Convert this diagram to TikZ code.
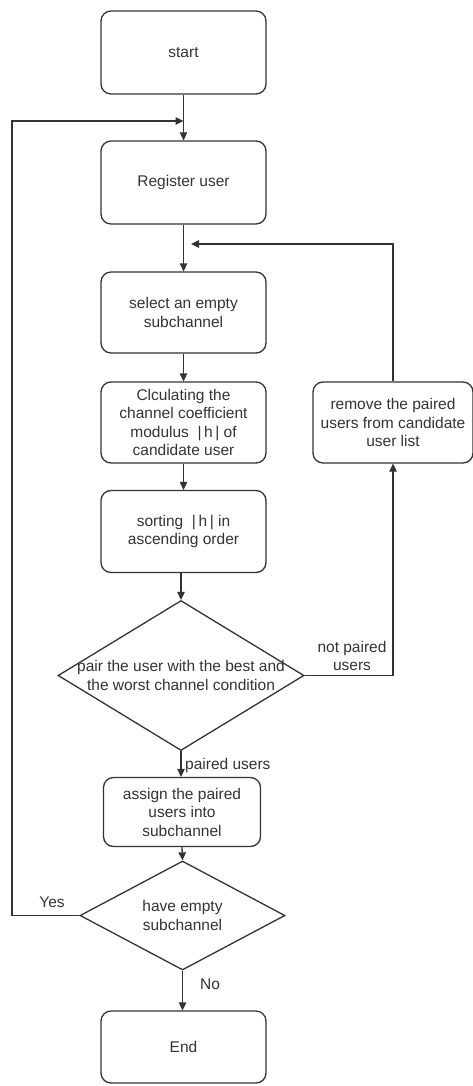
\documentclass[tikz,border=0pt]{standalone}
\usepackage{fontspec}
\setmainfont{Liberation Sans}
\usetikzlibrary{arrows.meta,shapes.geometric}
\definecolor{ink}{HTML}{333333}
\begin{document}
\begin{tikzpicture}[x=1pt,y=-1pt,
 txt/.style={text=ink, align=center, font=\fontsize{15.5}{18.5}\selectfont},
 box/.style={txt, draw=ink, line width=1.3pt, rounded corners=10pt, inner sep=0pt},
 dia/.style={draw=ink, line width=1.3pt, diamond, inner sep=0pt},
 lbl/.style={txt, inner sep=0pt},
 arr/.style={draw=ink, line width=1.3pt, -{Triangle[length=8pt,width=7.5pt]}},
 ln/.style={draw=ink, line width=1.3pt}]
\useasboundingbox (0,0) rectangle (473,1086);
% boxes
\node[box, minimum width=165pt, minimum height=83pt] (start) at (183.5,52.5) {start};
\node[box, minimum width=165pt, minimum height=83pt] (reg) at (183.5,182.5) {Register user};
\node[box, minimum width=165pt, minimum height=81pt] (sel) at (183.5,312.5) {select an empty\\subchannel};
\node[box, minimum width=165pt, minimum height=81pt] (calc) at (183.5,422.5) {Clculating the\\channel coefficient\\modulus~~|\,h\,|~of\\candidate user};
\node[box, minimum width=165pt, minimum height=82pt] (sort) at (183.5,531.5) {sorting~~|\,h\,|~in\\ascending order};
\node[dia, minimum width=246pt, minimum height=150pt] (d1) at (181,675.5) {};
\node[lbl] (d1t) at (d1) {pair the user with the best and\\the worst channel condition};
\node[box, minimum width=160pt, minimum height=81pt] (rem) at (393,422.5) {remove the paired\\users from candidate\\user list};
\node[box, minimum width=157pt, minimum height=69pt] (asg) at (182,812) {assign the paired\\users into\\subchannel};
\node[dia, minimum width=205pt, minimum height=109pt] (d2) at (182.5,915.5) {};
\node[lbl] (d2t) at (d2) {have empty\\subchannel};
\node[box, minimum width=165pt, minimum height=72pt] (end) at (183.5,1047) {End};
% coordinates
\coordinate (j1) at (183.5,121);
\coordinate (j2) at (191,244);
\coordinate (lx) at (12,915.5);
\coordinate (lt) at (12,121);
\coordinate (rt) at (393,244);
% connectors
\draw[arr] (start.south) -- (reg.north);
\draw[arr] (reg.south) -- (sel.north);
\draw[arr] (sel.south) -- (calc.north);
\draw[arr] (calc.south) -- (sort.north);
\draw[arr] (d1.north |- sort.south) -- (d1.north);
\draw[arr] (d1.south) -- (d1.south |- asg.north);
\draw[arr] (asg.south) -- (d2.north);
\draw[arr] (d2.south) -- (d2.south |- end.north);
\draw[arr] (d1.east) -| (rem.south);
\draw[arr] (rem.north) -- (rt) -- (j2);
\draw[arr] (d2.west) -- (lx) -- (lt) -- (j1);
% labels
\node[lbl] (np) at (352,656) {not paired\\users};
\node[lbl, anchor=west] (pu) at (185,765) {paired users};
\node[lbl] (yes) at (52,902) {Yes};
\node[lbl] (no) at (210,984) {No};
\end{tikzpicture}
\end{document}
